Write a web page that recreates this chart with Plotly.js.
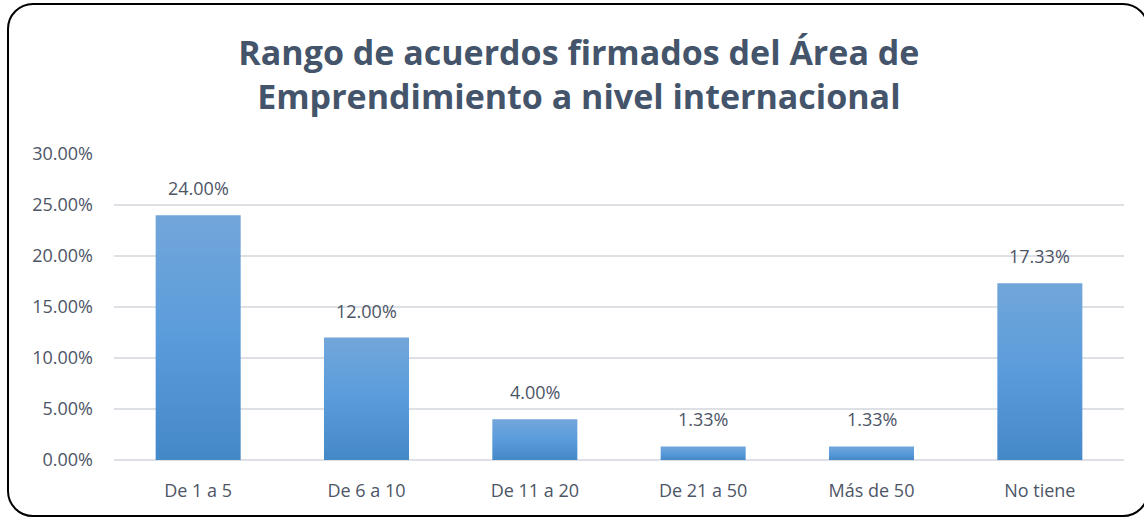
<!DOCTYPE html>
<html>
<head>
<meta charset="utf-8">
<script src="https://cdn.plot.ly/plotly-3.0.1.min.js"></script>
<style>
html,body{margin:0;padding:0;background:#fff;}
#wrap{position:relative;width:1144px;height:517px;overflow:hidden;}
#chart{position:absolute;left:0;top:0;width:1144px;height:517px;}
#frame{position:absolute;left:7px;top:3px;width:1142px;height:514px;border:2px solid #000;border-radius:26px;box-sizing:border-box;pointer-events:none;}
</style>
</head>
<body>
<div id="wrap">
<div id="chart"></div>
<div id="frame"></div>
</div>
<script>
const categories = ["De 1 a 5", "De 6 a 10", "De 11 a 20", "De 21 a 50", "Más de 50", "No tiene"];
const values = [0.24, 0.12, 0.04, 0.0133, 0.0133, 0.1733];
const labels = ["24.00%", "12.00%", "4.00%", "1.33%", "1.33%", "17.33%"];
const titleText = "Rango de acuerdos firmados del Área de<br>Emprendimiento a nivel internacional";

const textColor = "#4d5566";
const fontFam = "'Open Sans', 'Noto Sans', sans-serif";

const trace = {
  type: "bar",
  x: categories,
  y: values,
  marker: {color: "#5B9BD5", line: {width: 0}},
  hoverinfo: "x+y"
};

const annotations = categories.map((c, i) => ({
  x: c, y: values[i], xref: "x", yref: "y",
  text: labels[i], showarrow: false,
  yanchor: "bottom", yshift: 13,
  font: {family: fontFam, size: 18, color: textColor}
}));

const layout = {
  width: 1144, height: 517,
  margin: {l: 114, r: 20, t: 154, b: 57},
  paper_bgcolor: "#fff", plot_bgcolor: "#fff",
  title: {
    text: titleText,
    x: 0.506, xanchor: "center", xref: "container",
    y: 0.875, yref: "container", yanchor: "middle",
    font: {family: fontFam, size: 34, color: "#44546A", weight: "bold"}
  },
  showlegend: false,
  bargap: 0.495,
  xaxis: {
    type: "category",
    showgrid: false, showline: false, zeroline: false,
    ticks: "", ticklen: 0,
    ticklabelstandoff: 18,
    tickfont: {family: fontFam, size: 18, color: textColor}
  },
  yaxis: {
    range: [0, 0.30], dtick: 0.05, tick0: 0,
    tickformat: ".2%",
    showgrid: true, gridcolor: "#DDE1E6", gridwidth: 1.3,
    zeroline: true, zerolinecolor: "#DDE1E6", zerolinewidth: 1.3,
    showline: false, ticks: "",
    ticklabelstandoff: 20,
    tickfont: {family: fontFam, size: 18, color: textColor}
  },
  annotations: annotations
};

Plotly.newPlot("chart", [trace], layout, {displayModeBar: false, staticPlot: true}).then(gd => {
  const svg = gd.querySelector("svg.main-svg");
  const ns = "http://www.w3.org/2000/svg";
  let defs = svg.querySelector("defs");
  if (!defs) { defs = document.createElementNS(ns, "defs"); svg.insertBefore(defs, svg.firstChild); }
  const g = document.createElementNS(ns, "linearGradient");
  g.setAttribute("id", "barGrad");
  g.setAttribute("x1", "0"); g.setAttribute("y1", "0");
  g.setAttribute("x2", "0"); g.setAttribute("y2", "1");
  const s1 = document.createElementNS(ns, "stop");
  s1.setAttribute("offset", "0"); s1.setAttribute("stop-color", "#72A6DA");
  const s2 = document.createElementNS(ns, "stop");
  s2.setAttribute("offset", "0.5"); s2.setAttribute("stop-color", "#5A9CDB");
  const s3 = document.createElementNS(ns, "stop");
  s3.setAttribute("offset", "1"); s3.setAttribute("stop-color", "#4588C8");
  g.appendChild(s1); g.appendChild(s2); g.appendChild(s3);
  defs.appendChild(g);
  gd.querySelectorAll(".barlayer .point path").forEach(p => { p.style.fill = "url(#barGrad)"; });
});
</script>
</body>
</html>
